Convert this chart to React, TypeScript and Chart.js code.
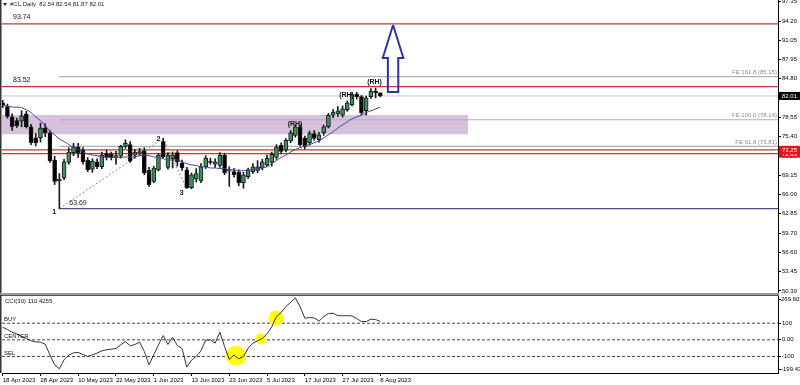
import React, { useEffect, useRef } from "react";
import { Chart, registerables } from "chart.js";

Chart.register(...registerables);

const FONT = "'Liberation Sans', 'DejaVu Sans', sans-serif";

// ---------- categories ----------
const dates = [
  "18 Apr 2023", "19 Apr 2023", "20 Apr 2023", "21 Apr 2023", "24 Apr 2023", "25 Apr 2023", "26 Apr 2023", "27 Apr 2023", "28 Apr 2023",
  "1 May 2023", "2 May 2023", "3 May 2023", "4 May 2023", "5 May 2023", "8 May 2023", "9 May 2023", "10 May 2023", "11 May 2023",
  "12 May 2023", "15 May 2023", "16 May 2023", "17 May 2023", "18 May 2023", "19 May 2023", "22 May 2023", "23 May 2023", "24 May 2023",
  "25 May 2023", "26 May 2023", "29 May 2023", "30 May 2023", "31 May 2023",
  "1 Jun 2023", "2 Jun 2023", "5 Jun 2023", "6 Jun 2023", "7 Jun 2023", "8 Jun 2023", "9 Jun 2023", "12 Jun 2023", "13 Jun 2023",
  "14 Jun 2023", "15 Jun 2023", "16 Jun 2023", "19 Jun 2023", "20 Jun 2023", "21 Jun 2023", "22 Jun 2023", "23 Jun 2023", "26 Jun 2023",
  "27 Jun 2023", "28 Jun 2023", "29 Jun 2023", "30 Jun 2023",
  "3 Jul 2023", "4 Jul 2023", "5 Jul 2023", "6 Jul 2023", "7 Jul 2023", "10 Jul 2023", "11 Jul 2023", "12 Jul 2023", "13 Jul 2023",
  "14 Jul 2023", "17 Jul 2023", "18 Jul 2023", "19 Jul 2023", "20 Jul 2023", "21 Jul 2023", "24 Jul 2023", "25 Jul 2023", "26 Jul 2023",
  "27 Jul 2023", "28 Jul 2023", "31 Jul 2023",
  "1 Aug 2023", "2 Aug 2023", "3 Aug 2023", "4 Aug 2023", "7 Aug 2023", "8 Aug 2023",
];

// ---------- OHLC ----------
const openP = [
  80.9, 80.3, 78.6, 78.0, 77.9, 79.1, 77.0, 75.2, 75.2, 76.8,
  76.0, 71.6, 68.2, 68.7, 71.2, 72.8, 73.7, 73.2, 71.6, 70.1,
  71.3, 70.5, 72.7, 72.5, 72.0, 72.2, 73.8, 74.1, 72.4, 72.8,
  73.1, 69.9, 68.1, 70.0, 74.6, 70.4, 71.8, 72.8, 71.1, 70.0,
  67.1, 68.5, 68.2, 70.5, 71.4, 70.9, 70.7, 72.4, 69.8, 69.7,
  69.6, 67.9, 68.9, 69.7, 69.9, 70.3, 70.8, 71.2, 72.0, 74.0,
  73.2, 74.7, 75.6, 77.0, 75.2, 74.4, 75.9, 74.9, 76.0, 77.0,
  78.9, 79.1, 78.9, 79.8, 80.6, 82.3, 81.9, 79.6, 81.9, 82.8,
  82.54,
];
const highP = [
  81.3, 80.7, 79.1, 78.4, 79.6, 79.5, 77.4, 75.9, 77.6, 77.5,
  76.4, 72.2, 69.4, 71.7, 73.6, 74.3, 74.3, 73.6, 72.0, 71.8,
  71.8, 72.9, 73.2, 72.9, 73.0, 74.0, 74.9, 74.6, 73.3, 73.5,
  73.6, 70.4, 70.6, 72.7, 75.1, 72.8, 72.9, 73.1, 71.6, 70.4,
  69.5, 70.2, 71.0, 72.3, 71.9, 71.8, 72.8, 72.7, 70.5, 70.2,
  70.0, 69.6, 70.3, 71.0, 71.5, 71.7, 72.4, 72.9, 74.1, 74.4,
  75.1, 76.4, 77.3, 77.3, 75.5, 76.3, 76.4, 76.1, 77.3, 79.2,
  79.8, 80.3, 80.4, 81.2, 82.5, 82.6, 82.1, 82.0, 83.2, 83.3,
  82.54,
];
const lowP = [
  80.1, 78.4, 76.4, 76.9, 77.0, 76.8, 74.1, 73.9, 74.5, 75.4,
  71.2, 67.6, 63.69, 68.4, 70.9, 72.3, 72.0, 70.9, 69.7, 69.6,
  70.2, 70.2, 71.6, 71.6, 70.9, 71.9, 73.5, 71.2, 71.9, 72.3,
  69.2, 67.3, 67.9, 69.8, 71.9, 70.1, 70.3, 70.6, 69.9, 66.96,
  66.9, 68.0, 67.9, 70.2, 70.9, 70.4, 70.4, 69.2, 67.3, 68.8,
  67.4, 67.0, 68.6, 69.4, 69.5, 70.0, 70.5, 70.6, 71.7, 72.6,
  72.9, 74.4, 75.3, 73.9, 73.4, 74.0, 74.8, 74.5, 75.6, 76.8,
  78.5, 78.7, 78.6, 79.5, 80.4, 81.5, 78.9, 78.9, 81.6, 81.7,
  81.87,
];
const closeP = [
  80.5, 78.7, 77.0, 77.2, 78.8, 77.0, 74.4, 74.4, 76.8, 76.0,
  71.5, 68.1, 68.5, 71.3, 72.9, 73.7, 72.8, 71.3, 70.0, 71.4,
  70.5, 72.4, 72.1, 72.0, 72.3, 73.8, 74.3, 71.4, 72.9, 72.9,
  69.5, 67.6, 70.3, 72.4, 72.1, 72.4, 72.4, 71.3, 70.3, 67.1,
  69.2, 69.4, 70.5, 71.9, 71.2, 71.3, 72.4, 69.5, 70.0, 69.2,
  67.9, 69.2, 70.0, 70.5, 70.5, 71.3, 71.9, 72.5, 73.7, 73.0,
  74.8, 76.0, 77.0, 74.1, 73.8, 75.9, 75.1, 75.7, 77.0, 78.9,
  79.4, 79.6, 79.9, 80.9, 82.2, 81.9, 79.3, 81.7, 82.8, 82.5,
  82.01,
];

// moving average drawn over the candles
const maP = [
  80.4, 80.4, 80.2, 80.2, 80.1, 79.75, 79.3, 78.6, 78.0, 77.2,
  76.3, 75.7, 75.0, 74.6, 74.1, 73.6, 73.3, 72.9, 72.6, 72.4,
  72.3, 72.1, 72.0, 72.0, 72.0, 72.0, 72.1, 72.1, 72.1, 72.3,
  72.4, 72.3, 72.1, 72.0, 71.8, 71.6, 71.6, 71.6, 71.3, 71.0,
  70.8, 70.7, 70.5, 70.5, 70.3, 70.3, 70.2, 70.2, 70.0, 70.0,
  69.85, 69.85, 70.0, 70.0, 70.2, 70.3, 70.5, 71.0, 71.5, 72.0,
  72.4, 72.9, 73.3, 73.6, 73.9, 74.1, 74.4, 74.7, 75.2, 75.7,
  76.2, 76.8, 77.3, 77.8, 78.3, 78.6, 78.9, 79.3, 79.6, 79.9,
  80.2,
];

// CCI(30)
const cciV = [
  76, 62, 45, 36, 20, 8, -6, -12, -14, -26,
  -90, -150, -174, -120, -92, -78, -76, -88, -100, -90,
  -80, -66, -60, -56, -52, -30, -10, -36, -28, -14,
  -70, -150, -90, -30, 26, -28, 16, -34, -52, -164,
  -122, -100, -66, -2, 0, -20, 46, -40, -118, -92,
  -114, -100, -50, -20, -6, 8, 36, 78, 140, 165,
  200, 225, 252, 200, 130, 134, 132, 112, 140, 158,
  160, 146, 145, 145, 144, 128, 110, 110, 124, 122,
  110.4255,
];

// ---------- axes / ticks ----------
const priceTicks = [97.35, 94.2, 91.05, 87.95, 84.8, 81.65, 78.55, 75.4, 72.25, 69.15, 66.0, 62.85, 59.7, 56.6, 53.45, 50.3];
const cciTicks = [-100, 0, 100];
const cciRange = [-199.435, 269.603];
const xTickIdx = [0, 8, 16, 24, 32, 40, 48, 56, 64, 72, 80];
const priceRange = [49.97, 97.615];
const xRange = [-0.15, 164.25];

// ---------- drawn objects ----------
const redLevels = [93.74, 83.52];
const redLevelsLow = [73.25, 72.63];
const feNames = ["FE 161.8", "FE 100.0", "FE 61.8"];
const feLevels = [85.15, 78.14, 73.81];
const feStartIdx = 12;
const bidPrice = 82.01;
const swingLow = 63.69;
const zone = [75.8, 78.9];
const zoneEndIdx = 98.6;
const zigzagIdx = [12, 34, 39];
const zigzagPrice = [63.69, 75.1, 66.96];
const zigzagNames = ["1", "2", "3"];
const zigzagLabelIdx = [10.9, 33.0, 37.9];
const zigzagLabelPrice = [63.14, 75.0, 66.23];
const swingLabelIdx = 15.95;
const swingLabelPrice = 64.61;
const rhIdx = [61.93, 72.84, 78.77];
const rhPrice = [77.45, 82.17, 84.28];
const arrowX = [82.7, 84.88, 83.8, 83.8, 81.6, 81.6, 80.52, 82.7];
const arrowY = [93.55, 88.18, 88.18, 82.66, 82.66, 88.18, 88.18, 93.55];
const cciLevels = [100, 0, -100];
const cciLevelNames = ["BUY", "CENTER", "SEL"];
const markIdx = [57.9, 54.7, 49.4];
const markVal = [132, 6, -96];
const markRadius = [7.5, 5.5, 10];

const idx = dates.map((_, i) => i);

function hline(y: number, x0: number, x1: number, color: string, width: number, order: number, dash: number[] = []) {
  return {
    type: "line" as const,
    data: [{ x: x0, y }, { x: x1, y }],
    borderColor: color,
    borderWidth: width,
    borderDash: dash,
    pointRadius: 0,
    fill: false,
    tension: 0,
    order,
  };
}

const overlayTop = {
  id: "overlayTop",
  afterDatasetsDraw(chart: any) {
    const { ctx, chartArea, scales } = chart;
    const x = scales.x, y = scales.y;
    ctx.save();
    ctx.beginPath();
    ctx.rect(chartArea.left, chartArea.top, chartArea.right - chartArea.left, chartArea.bottom - chartArea.top);
    ctx.clip();
    ctx.fillStyle = "#111";
    ctx.font = `7px ${FONT}`;
    ctx.textAlign = "left";
    ctx.textBaseline = "bottom";
    redLevels.forEach((v) => ctx.fillText(v.toFixed(2), 13, y.getPixelForValue(v) - 3));
    ctx.font = `6px ${FONT}`;
    ctx.fillStyle = "#8a8a8a";
    ctx.textAlign = "right";
    feLevels.forEach((v, k) => ctx.fillText(`${feNames[k]} (${v.toFixed(2)})`, chartArea.right - 1, y.getPixelForValue(v) - 1));
    ctx.fillStyle = "#111";
    ctx.font = `bold 7px ${FONT}`;
    ctx.textAlign = "center";
    ctx.textBaseline = "middle";
    rhIdx.forEach((v, k) => ctx.fillText("(RH)", x.getPixelForValue(v), y.getPixelForValue(rhPrice[k])));
    zigzagNames.forEach((n, k) => ctx.fillText(n, x.getPixelForValue(zigzagLabelIdx[k]), y.getPixelForValue(zigzagLabelPrice[k])));
    ctx.font = `7px ${FONT}`;
    ctx.fillStyle = "#222";
    ctx.fillText(swingLow.toFixed(2), x.getPixelForValue(swingLabelIdx), y.getPixelForValue(swingLabelPrice));
    ctx.restore();
  },
  afterDraw(chart: any) {
    const { ctx, chartArea, scales } = chart;
    const y = scales.y;
    ctx.save();
    ctx.fillStyle = "#9a9a9a";
    ctx.fillRect(0, chartArea.bottom, chartArea.right + 1, 2);
    ctx.fillStyle = "#333";
    ctx.fillRect(0, 0, 1.5, chartArea.bottom);
    const box = (v: number, bg: string) => {
      const py = y.getPixelForValue(v);
      ctx.fillStyle = bg;
      ctx.fillRect(chartArea.right + 1, py - 4, 22, 8);
      ctx.fillStyle = "#fff";
      ctx.font = `6px ${FONT}`;
      ctx.textAlign = "left";
      ctx.textBaseline = "middle";
      ctx.fillText(v.toFixed(2), chartArea.right + 4, py + 0.5);
    };
    box(bidPrice, "#000");
    box(redLevelsLow[1], "#e3141c");
    box(redLevelsLow[0], "#e3141c");
    const last = closeP.length - 1;
    ctx.fillStyle = "#222";
    ctx.beginPath();
    ctx.moveTo(3, 3);
    ctx.lineTo(7, 3);
    ctx.lineTo(5, 6);
    ctx.closePath();
    ctx.fill();
    ctx.font = `6px ${FONT}`;
    ctx.textAlign = "left";
    ctx.textBaseline = "middle";
    ctx.fillText(
      `#CL,Daily  ${openP[last].toFixed(2)} ${highP[last].toFixed(2)} ${lowP[last].toFixed(2)} ${closeP[last].toFixed(2)}`,
      10,
      4.5
    );
    ctx.restore();
  },
};

const overlayBottom = {
  id: "overlayBottom",
  afterDatasetsDraw(chart: any) {
    const { ctx, scales } = chart;
    const y = scales.y;
    ctx.save();
    ctx.fillStyle = "#111";
    ctx.font = `6px ${FONT}`;
    ctx.textAlign = "left";
    ctx.textBaseline = "middle";
    ctx.fillText(`CCI(30) ${cciV[cciV.length - 1].toFixed(4)}`, 5, 6);
    ctx.textBaseline = "bottom";
    cciLevels.forEach((v, k) => ctx.fillText(cciLevelNames[k], 4, y.getPixelForValue(v) - 0.5));
    ctx.restore();
  },
  afterDraw(chart: any) {
    const { ctx, chartArea, scales } = chart;
    const y = scales.y;
    ctx.save();
    ctx.fillStyle = "#555";
    ctx.fillRect(0, 0, chartArea.right + 1, 1);
    ctx.fillStyle = "#333";
    ctx.fillRect(0, 0, 1.5, chartArea.bottom);
    ctx.fillStyle = "#000";
    ctx.font = `6px ${FONT}`;
    ctx.textAlign = "left";
    ctx.textBaseline = "top";
    ctx.fillText(cciRange[1].toFixed(3), chartArea.right + 3, y.getPixelForValue(cciRange[1]) + 1);
    ctx.textBaseline = "bottom";
    ctx.fillText(cciRange[0].toFixed(3), chartArea.right + 3, y.getPixelForValue(cciRange[0]) - 1);
    ctx.fillRect(chartArea.right, y.getPixelForValue(cciRange[1]) + 4, 3, 1);
    ctx.fillRect(chartArea.right, y.getPixelForValue(cciRange[0]) - 4, 3, 1);
    ctx.restore();
  },
};

function topConfig(): any {
  const datasets: any[] = [];
  datasets.push({
    type: "line",
    data: [{ x: xRange[0], y: zone[1] }, { x: zoneEndIdx, y: zone[1] }],
    borderWidth: 0,
    borderColor: "rgba(0,0,0,0)",
    pointRadius: 0,
    fill: { value: zone[0] },
    backgroundColor: "#d6c0db",
    order: 20,
  });
  feLevels.forEach((v) => datasets.push(hline(v, feStartIdx, xRange[1], "#b0b0b0", 1.2, 15)));
  datasets.push(hline(bidPrice, xRange[0], xRange[1], "#c4c4c4", 1, 15));
  redLevels.forEach((v) => datasets.push(hline(v, xRange[0], xRange[1], "#c2393b", 1.2, 14)));
  redLevelsLow.forEach((v) => datasets.push(hline(v, xRange[0], xRange[1], "#c2393b", 1.2, 14)));
  datasets.push(hline(swingLow, feStartIdx, xRange[1], "#4a4a8c", 1.2, 14));
  datasets.push({
    type: "line",
    data: zigzagIdx.map((v, k) => ({ x: v, y: zigzagPrice[k] })),
    borderColor: "#a97a7a",
    borderWidth: 1,
    borderDash: [2, 2],
    pointRadius: 0,
    fill: false,
    tension: 0,
    order: 13,
  });
  datasets.push({
    type: "bar",
    data: idx.map((i) => ({ x: i, y: [lowP[i], highP[i]] })),
    backgroundColor: "#1a1a1a",
    barThickness: 1,
    grouped: false,
    order: 5,
  });
  datasets.push({
    type: "bar",
    data: idx.map((i) => ({ x: i, y: [openP[i], closeP[i]] })),
    backgroundColor: idx.map((i) => (closeP[i] >= openP[i] ? "#3c8f5e" : "#000")),
    borderColor: "#1a1a1a",
    borderWidth: 1,
    borderSkipped: false,
    barThickness: 4,
    minBarLength: 1,
    grouped: false,
    order: 4,
  });
  datasets.push({
    type: "line",
    data: idx.map((i) => ({ x: i, y: maP[i] })),
    borderColor: "#4343a0",
    borderWidth: 1,
    pointRadius: 0,
    fill: false,
    tension: 0.3,
    order: 3,
  });
  datasets.push({
    type: "line",
    data: arrowX.map((v, k) => ({ x: v, y: arrowY[k] })),
    borderColor: "#2f33a6",
    borderWidth: 2,
    pointRadius: 0,
    fill: false,
    tension: 0,
    order: 2,
  });
  return {
    type: "bar",
    data: { datasets },
    plugins: [overlayTop],
    options: {
      responsive: false,
      maintainAspectRatio: false,
      animation: false,
      events: [],
      layout: { autoPadding: false, padding: { left: 2, right: 0, top: 0, bottom: 2 } },
      plugins: { legend: { display: false }, tooltip: { enabled: false } },
      scales: {
        x: { type: "linear", min: xRange[0], max: xRange[1], display: false, offset: false },
        y: {
          type: "linear",
          position: "right",
          min: priceRange[0],
          max: priceRange[1],
          afterBuildTicks: (s: any) => {
            s.ticks = priceTicks.map((v) => ({ value: v }));
          },
          afterFit: (s: any) => {
            s.width = 22;
            s.paddingTop = 0;
            s.paddingBottom = 0;
          },
          ticks: {
            autoSkip: false,
            padding: 1,
            color: "#000",
            font: { size: 6, family: FONT },
            callback: (v: any) => Number(v).toFixed(2),
          },
          grid: { drawOnChartArea: false, drawTicks: true, tickLength: 3, color: "#000" },
          border: { display: true, color: "#000" },
        },
      },
    },
  };
}

function bottomConfig(): any {
  const datasets: any[] = [];
  cciLevels.forEach((v) => datasets.push(hline(v, xRange[0], xRange[1], "#444", 1, 10, [3, 2])));
  datasets.push({
    type: "bubble",
    data: markIdx.map((v, k) => ({ x: v, y: markVal[k], r: markRadius[k] })),
    backgroundColor: "#ffff00",
    borderWidth: 0,
    order: 5,
  });
  datasets.push({
    type: "line",
    data: idx.map((i) => ({ x: i, y: cciV[i] })),
    borderColor: "#333",
    borderWidth: 1,
    pointRadius: 0,
    fill: false,
    tension: 0,
    order: 1,
  });
  return {
    type: "line",
    data: { datasets },
    plugins: [overlayBottom],
    options: {
      responsive: false,
      maintainAspectRatio: false,
      animation: false,
      events: [],
      layout: { autoPadding: false, padding: { left: 2, right: 0, top: 0, bottom: 0 } },
      plugins: { legend: { display: false }, tooltip: { enabled: false } },
      scales: {
        x: {
          type: "linear",
          min: xRange[0],
          max: xRange[1],
          offset: false,
          afterBuildTicks: (s: any) => {
            s.ticks = xTickIdx.map((v) => ({ value: v }));
          },
          afterFit: (s: any) => {
            s.height = 12;
            s.paddingLeft = 0;
            s.paddingRight = 0;
          },
          ticks: {
            autoSkip: false,
            maxRotation: 0,
            minRotation: 0,
            align: "start",
            padding: 1,
            color: "#000",
            font: { size: 6, family: FONT },
            callback: (v: any) => dates[v] ?? "",
          },
          grid: { drawOnChartArea: false, drawTicks: true, tickLength: 3, color: "#000" },
          border: { display: true, color: "#000" },
        },
        y: {
          type: "linear",
          position: "right",
          min: cciRange[0],
          max: cciRange[1],
          afterBuildTicks: (s: any) => {
            s.ticks = cciTicks.map((v) => ({ value: v }));
          },
          afterFit: (s: any) => {
            s.width = 22;
            s.paddingTop = 0;
            s.paddingBottom = 0;
          },
          ticks: {
            autoSkip: false,
            padding: 1,
            color: "#000",
            font: { size: 6, family: FONT },
            callback: (v: any) => (Number(v) === 0 ? "0.00" : String(v)),
          },
          grid: { drawOnChartArea: false, drawTicks: true, tickLength: 3, color: "#000" },
          border: { display: true, color: "#000" },
        },
      },
    },
  };
}

export default function App() {
  const topRef = useRef<HTMLCanvasElement>(null);
  const botRef = useRef<HTMLCanvasElement>(null);
  useEffect(() => {
    document.body.style.margin = "0";
    const c1 = new Chart(topRef.current as HTMLCanvasElement, topConfig());
    const c2 = new Chart(botRef.current as HTMLCanvasElement, bottomConfig());
    return () => {
      c1.destroy();
      c2.destroy();
    };
  }, []);
  return (
    <div style={{ position: "absolute", left: 0, top: 0, width: 800, height: 385, background: "#fff" }}>
      <canvas ref={topRef} width={800} height={295} style={{ display: "block", width: 800, height: 295 }} />
      <canvas ref={botRef} width={800} height={90} style={{ display: "block", width: 800, height: 90 }} />
    </div>
  );
}
